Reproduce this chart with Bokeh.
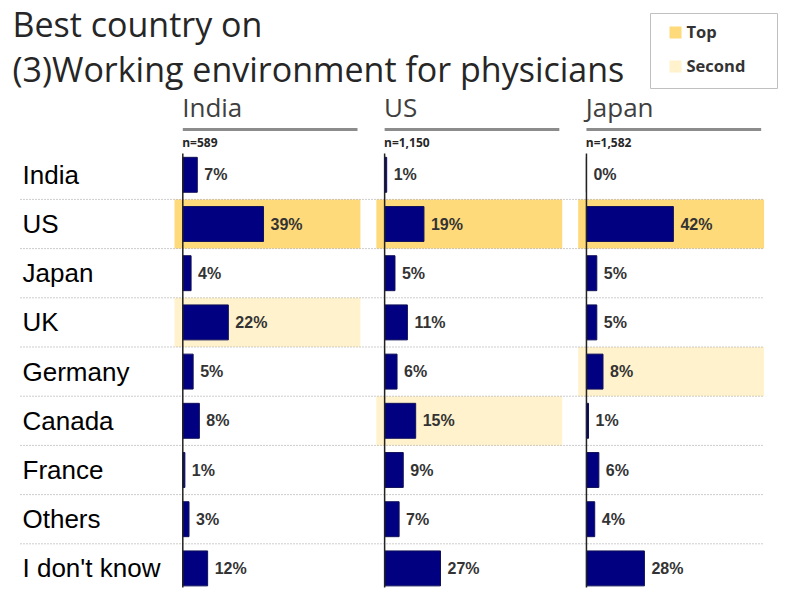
from bokeh.plotting import figure
from bokeh.models import Range1d, ColumnDataSource
from bokeh.embed import file_html
from bokeh.resources import INLINE
from bokeh.core.properties import value

# ---------------- data ----------------
title_lines = ["Best country on", "(3)Working environment for physicians"]
countries = ["India", "US", "Japan", "UK", "Germany", "Canada", "France", "Others", "I don't know"]
respondent_groups = ["India", "US", "Japan"]
sample_sizes = ["n=589", "n=1,150", "n=1,582"]
india_pct = [7, 39, 4, 22, 5, 8, 1, 3, 12]
us_pct = [1, 19, 5, 11, 6, 15, 9, 7, 27]
japan_pct = [0, 42, 5, 5, 8, 1, 6, 4, 28]
legend_labels = ["Top", "Second"]
series = [india_pct, us_pct, japan_pct]

# ---------------- layout / style ----------------
W, H = 790, 590
PX = 2.07        # pixels per percent
ROW = 49.2       # pixels per row
AX0 = 182.3      # India column axis (px)
ROW0 = 174.3     # first row center (px)
COL_STEP = 97.5  # column spacing in percent units


def fx(ref_x):
    return (ref_x - AX0) / PX


def fy(ref_y):
    return (ref_y - ROW0) / ROW


TOP_COLOR = "#FFDA7A"
SECOND_COLOR = "#FFF2CC"
BAR_COLOR = "#000080"
TEXT_DARK = "#262626"

p = figure(width=W, height=H,
           x_range=Range1d(-AX0 / PX, (W - AX0) / PX),
           y_range=Range1d((H - ROW0) / ROW, -ROW0 / ROW),
           output_backend="svg", toolbar_location=None,
           x_axis_location=None, y_axis_location=None,
           min_border=0)
p.grid.visible = False
p.outline_line_color = None
p.background_fill_color = "white"
p.border_fill_color = "white"

rows = list(range(len(countries)))

# highlight bands (top / second, excluding "I don't know")
for c, vals in enumerate(series):
    off = c * COL_STEP
    ranked = sorted([i for i in rows if countries[i] != "I don't know"],
                    key=lambda i: -vals[i])
    for rank, color in zip(ranked[:2], [TOP_COLOR, SECOND_COLOR]):
        p.quad(left=[off - 4.0], right=[off + 85.8],
               top=[rank - 0.5], bottom=[rank + 0.5],
               fill_color=color, line_color=None)

# dotted row separators
sep_y = [i + 0.5 for i in rows[:-1]]
p.segment(x0=[fx(20)] * len(sep_y), x1=[fx(763)] * len(sep_y),
          y0=sep_y, y1=sep_y, line_color="#9a9a9a", line_width=1,
          line_dash="1 2")

# row labels
p.text(x=[fx(22)] * len(countries), y=rows, text=countries,
       text_font=value("Liberation Sans"), text_font_size="26px",
       text_color="black", text_baseline="middle", text_align="left")

for c, vals in enumerate(series):
    off = c * COL_STEP
    src = ColumnDataSource(dict(
        y=rows,
        left=[off] * len(rows),
        right=[off + v for v in vals],
        lab=[f"{v}%" for v in vals],
    ))
    p.hbar(y="y", left="left", right="right", height=0.71, source=src,
           fill_color=BAR_COLOR, line_color="#10105a", line_width=1)
    p.text(x="right", y="y", text="lab", source=src, x_offset=7,
           text_font=value("Liberation Sans"), text_font_style="bold",
           text_font_size="16px", text_color="#333333",
           text_baseline="middle", text_align="left")
    # vertical axis line
    p.segment(x0=[off], x1=[off], y0=[fy(153)], y1=[fy(587)],
              line_color="#222222", line_width=1.5)
    # header line
    p.segment(x0=[off], x1=[off + 84.4], y0=[fy(129)], y1=[fy(129)],
              line_color="#8c8c8c", line_width=3)
    # header texts
    p.text(x=[off - 0.3], y=[fy(106)], text=[respondent_groups[c]],
           text_font=value("Open Sans"), text_font_size="26px",
           text_color="#404040", text_baseline="middle")
    p.text(x=[off - 0.3], y=[fy(142)], text=[sample_sizes[c]],
           text_font=value("Open Sans"), text_font_style="bold",
           text_font_size="12px", text_color=TEXT_DARK,
           text_baseline="middle")

# title
p.text(x=[fx(12), fx(12)], y=[fy(23), fy(68)], text=title_lines,
       text_font=value("Open Sans"), text_font_size="34px",
       text_color=TEXT_DARK, text_baseline="middle")

# legend
p.quad(left=[fx(650)], right=[fx(777)], top=[fy(13)], bottom=[fy(88)],
       fill_color="white", line_color="#c0c0c0", line_width=1)
p.quad(left=[fx(669)] * 2, right=[fx(681)] * 2,
       top=[fy(26), fy(60)], bottom=[fy(38), fy(72)],
       fill_color=[TOP_COLOR, SECOND_COLOR], line_color=None)
p.text(x=[fx(686)] * 2, y=[fy(31), fy(65)], text=legend_labels,
       text_font=value("Open Sans"), text_font_style="bold",
       text_font_size="16.5px", text_color="#333333",
       text_baseline="middle")

open("out.html", "w").write(file_html(p, INLINE))
